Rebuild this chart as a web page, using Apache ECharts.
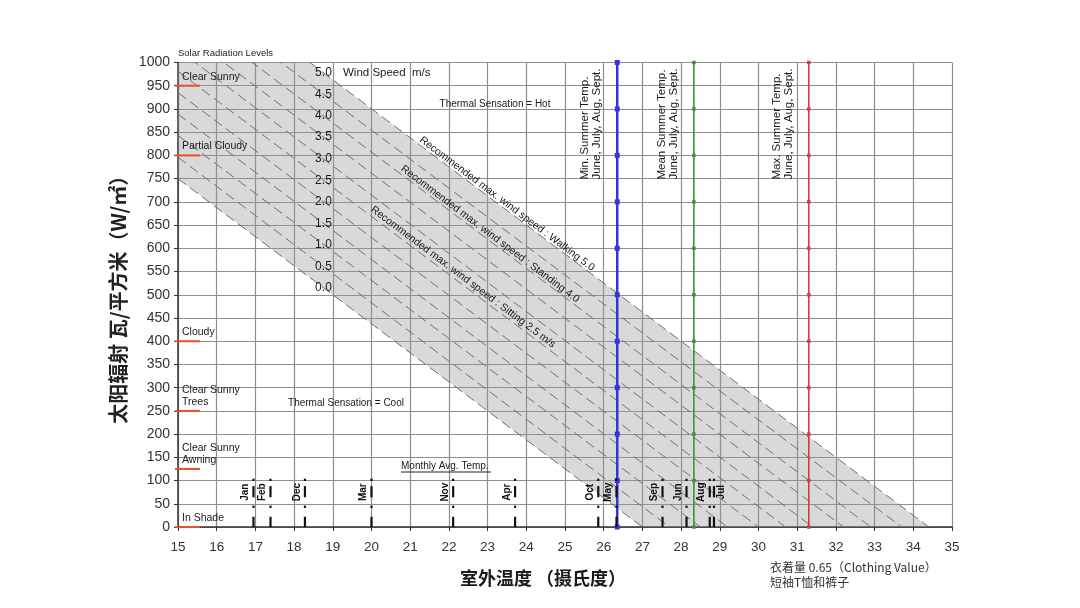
<!DOCTYPE html>
<html>
<head>
<meta charset="utf-8">
<script src="https://cdn.jsdelivr.net/npm/echarts@6/dist/echarts.min.js"></script>
<style>
html, body { margin: 0; background: #fff; }
#chart { width: 1080px; height: 608px; }
</style>
</head>
<body>
<div id="chart"></div>
<script>
// 风速线 (m/s)，每条线在 15°C 处的辐射值和在 0 W/㎡ 处的温度
const windSpeeds = ['0.0', '0.5', '1.0', '1.5', '2.0', '2.5', '3.0', '3.5', '4.0', '4.5', '5.0'];
const windLineStart = [750, 796, 843, 889, 935, 981, 1028, 1074, 1120, 1166, 1213];
const windLineEnd = [27.0, 27.7, 28.5, 29.2, 30.0, 30.7, 31.4, 32.2, 32.9, 33.7, 34.4];

// 灰色舒适带外框 [温度, 辐射]
const bandOutline = [[15, 750], [15, 1000], [18.4, 1000], [34.4, 0], [27, 0]];

// 太阳辐射等级
const radiationLevels = [950, 800, 400, 250, 125, 0];
const radiationNames = ['Clear Sunny', 'Partial Cloudy', 'Cloudy', 'Clear Sunny\nTrees', 'Clear Sunny\nAwning', 'In Shade'];

// 月平均温度
const months = ['Jan', 'Feb', 'Dec', 'Mar', 'Nov', 'Apr', 'Oct', 'May', 'Sep', 'Jun', 'Aug', 'Jul'];
const monthTemps = [16.95, 17.39, 18.28, 20.0, 22.11, 23.71, 25.86, 26.33, 27.52, 28.14, 28.74, 28.85];

// 夏季温度
const summerNames = ['Min. Summer Temp.', 'Mean Summer Temp.', 'Max. Summer Temp.'];
const summerTemps = [26.35, 28.33, 31.3];
const summerMarks = [0, 100, 200, 300, 400, 500, 600, 700, 800, 900, 1000];

const FONT = "'Liberation Sans', Arial, sans-serif";
const CJK = "'Noto Sans CJK SC', sans-serif";
const summerColors = ['#3434d8', '#3f8f3a', '#cf3f3f'];

const chart = echarts.init(document.getElementById('chart'));

const series = [];

// 舒适带
series.push({
    type: 'custom',
    silent: true,
    z: 1,
    data: [[15, 0]],
    renderItem: (params, api) => ({
        type: 'polygon',
        shape: { points: bandOutline.map(p => api.coord(p)) },
        style: { fill: 'rgba(150, 150, 150, 0.36)' },
    }),
});

// 风速虚线
windSpeeds.forEach((s, i) => {
    series.push({
        type: 'line',
        silent: true,
        clip: true,
        symbol: 'none',
        z: 2,
        data: [[15, windLineStart[i]], [windLineEnd[i], 0]],
        lineStyle: { color: '#707070', width: 1, type: [10, 5] },
    });
});

// 风速标签
series.push({
    type: 'custom',
    silent: true,
    clip: false,
    z: 5,
    data: windSpeeds.map((s, i) => [19, windLineStart[i] * (windLineEnd[i] - 19) / (windLineEnd[i] - 15), i]),
    renderItem: (params, api) => {
        const p = api.coord([api.value(0), api.value(1)]);
        return {
            type: 'text',
            x: p[0] - 1,
            y: p[1] - 7,
            style: {
                text: windSpeeds[api.value(2)],
                font: `12px ${ FONT }`,
                fill: '#1a1a1a',
                align: 'right',
                verticalAlign: 'middle',
            },
        };
    },
});

// 夏季温度竖线
summerTemps.forEach((t, i) => {
    series.push({
        type: 'line',
        silent: true,
        z: 4,
        data: summerMarks.map(w => [t, w]),
        symbol: 'rect',
        symbolSize: i === 0 ? 5 : 3.5,
        itemStyle: { color: summerColors[i] },
        lineStyle: { color: summerColors[i], width: i === 0 ? 2.5 : 1.6 },
    });
});

// 夏季温度标签
series.push({
    type: 'custom',
    silent: true,
    clip: false,
    z: 5,
    data: summerTemps.map((t, i) => [t, 748, i]),
    renderItem: (params, api) => {
        const p = api.coord([api.value(0), api.value(1)]);
        return {
            type: 'text',
            x: p[0] - 14,
            y: p[1],
            rotation: Math.PI / 2,
            style: {
                text: summerNames[api.value(2)] + '\nJune, July, Aug, Sept.',
                font: `11.5px ${ FONT }`,
                lineHeight: 12,
                fill: '#1a1a1a',
                align: 'left',
                verticalAlign: 'bottom',
            },
        };
    },
});

// 太阳辐射等级
series.push({
    type: 'custom',
    silent: true,
    clip: false,
    z: 6,
    data: radiationLevels.map((w, i) => [15, w, i]),
    renderItem: (params, api) => {
        const p = api.coord([api.value(0), api.value(1)]);
        return {
            type: 'group',
            children: [
                {
                    type: 'line',
                    shape: { x1: p[0] - 3, y1: p[1], x2: p[0] + 22, y2: p[1] },
                    style: { stroke: '#e2522b', lineWidth: 2 },
                },
                {
                    type: 'text',
                    x: p[0] + 4,
                    y: p[1] - 3,
                    style: {
                        text: radiationNames[api.value(2)],
                        font: `10.5px ${ FONT }`,
                        lineHeight: 12,
                        fill: '#1a1a1a',
                        align: 'left',
                        verticalAlign: 'bottom',
                    },
                },
            ],
        };
    },
});

// 月平均温度标记
series.push({
    type: 'custom',
    silent: true,
    clip: false,
    z: 6,
    data: monthTemps.map((t, i) => [t, 0, i]),
    renderItem: (params, api) => {
        const p = api.coord([api.value(0), 0]);
        const k = api.size([0, 1])[1];
        const name = months[api.value(2)];
        const seg = (a, b) => ({
            type: 'rect',
            shape: { x: p[0] - 1.1, y: p[1] - b * k, width: 2.2, height: (b - a) * k },
            style: { fill: '#111' },
        });
        return {
            type: 'group',
            children: [
                seg(0, 22),
                seg(41, 46),
                seg(64, 88),
                seg(99, 104),
                {
                    type: 'text',
                    x: p[0] + (name === 'Jul' ? 7 : -8),
                    y: p[1] - 75 * k,
                    rotation: Math.PI / 2,
                    style: {
                        text: name,
                        font: `bold 10px ${ FONT }`,
                        fill: '#111',
                        align: 'center',
                        verticalAlign: 'middle',
                    },
                },
            ],
        };
    },
});

const txt = (text, x, y, size, extra) => Object.assign({
    type: 'text',
    x,
    y,
    silent: true,
    z: 20,
    style: Object.assign({
        text,
        font: `${ size }px ${ FONT }`,
        fill: '#1a1a1a',
        align: 'left',
        verticalAlign: 'middle',
    }, extra || {}),
});

const diag = -37 * Math.PI / 180;

chart.setOption({
    animation: false,
    grid: { left: 178, right: 128, top: 62.5, bottom: 81 },
    xAxis: {
        type: 'value',
        min: 15,
        max: 35,
        interval: 1,
        axisLine: { lineStyle: { color: '#333', width: 1.5 } },
        axisTick: { show: true, length: 4, lineStyle: { color: '#333' } },
        axisLabel: { color: '#333', fontSize: 13.5, fontFamily: FONT, margin: 13 },
        splitLine: { show: true, lineStyle: { color: '#8e8e8e', width: 1.2 } },
    },
    yAxis: {
        type: 'value',
        min: 0,
        max: 1000,
        interval: 50,
        name: '太阳辐射 瓦/平方米（W/㎡）',
        nameLocation: 'middle',
        nameGap: 50,
        nameRotate: 90,
        nameTextStyle: { fontSize: 20, fontFamily: CJK, fontWeight: 'bold', color: '#222' },
        axisLine: { show: true, lineStyle: { color: '#333', width: 1.5 } },
        axisTick: { show: true, length: 4, lineStyle: { color: '#333' } },
        axisLabel: { color: '#333', fontSize: 14, fontFamily: FONT, margin: 8, formatter: v => String(v) },
        splitLine: { show: true, lineStyle: { color: '#8e8e8e', width: 1.2 } },
    },
    graphic: [
        txt('Solar Radiation Levels', 178, 53, 9.5),
        txt('Wind Speed  m/s', 343, 73, 11.5),
        txt('Thermal Sensation = Hot', 495, 104, 10, { align: 'center' }),
        txt('Thermal Sensation = Cool', 346, 403, 10, { align: 'center' }),
        txt('Monthly Avg. Temp.', 401, 466, 10),
        {
            type: 'line',
            silent: true,
            z: 20,
            shape: { x1: 401, y1: 472, x2: 491, y2: 472 },
            style: { stroke: '#222', lineWidth: 1 },
        },
        Object.assign(txt('Recommended max. wind speed : Walking 5.0', 507, 204, 10.5, { align: 'center' }), { rotation: diag }),
        Object.assign(txt('Recommended max. wind speed : Standing 4.0', 490, 234, 10.5, { align: 'center' }), { rotation: diag }),
        Object.assign(txt('Recommended max. wind speed : Sitting 2.5 m/s', 463, 277, 10.5, { align: 'center' }), { rotation: diag }),
        txt('室外温度 （摄氏度）', 543, 578, 18, { align: 'center', font: `bold 18px ${ CJK }` }),
        txt('衣着量 0.65（Clothing Value）\n短袖T恤和裤子', 770, 575, 12, { font: `12px ${ CJK }`, lineHeight: 15, fill: '#333' }),
    ],
    series,
});
</script>
</body>
</html>
